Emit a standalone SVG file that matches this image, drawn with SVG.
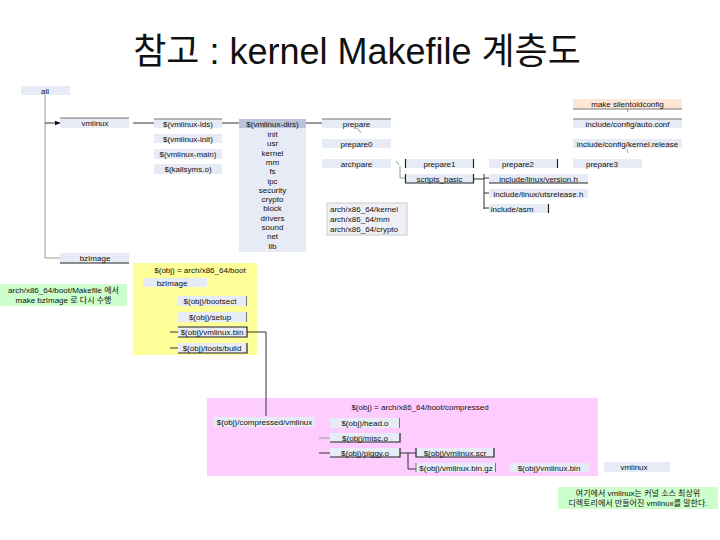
<svg xmlns="http://www.w3.org/2000/svg" width="720" height="540" viewBox="0 0 720 540">
<defs>
<style>
text{font-family:"Liberation Sans",Arial,"Noto Sans CJK KR",sans-serif;fill:#111;}
.t{font-size:8px;text-anchor:middle;}
.n{fill:#e6ebf5;}
.h{fill:#b8c5db;}
.pe{fill:#fde6d6;}
.d{stroke:#222;stroke-width:1.2;fill:none;}
.g{stroke:#777;stroke-width:1;fill:none;}
.c{stroke:#333;stroke-width:1;fill:none;}
.cg{stroke:#999;stroke-width:1;fill:none;}
.note{fill:#ccffcc;}
.ko{font-size:8px;text-anchor:middle;}
</style>
<marker id="ar" viewBox="0 0 10 10" refX="9" refY="5" markerWidth="6" markerHeight="6" orient="auto"><path d="M0,1 L10,5 L0,9 z" fill="#111"/></marker>
</defs>
<rect width="720" height="540" fill="#fff"/>
<text x="357" y="64" style="font-size:36px;text-anchor:middle">참고 : kernel Makefile 계층도</text>

<!-- regions -->
<rect id="yellow-region" x="133" y="263" width="124" height="92" fill="#ffff99"/>
<rect id="pink-region" x="207" y="398" width="391" height="78" fill="#ffccff"/>
<text x="200" y="273" class="t">$(obj) = arch/x86_64/boot</text>
<text x="420" y="410" class="t">$(obj) = arch/x86_64/boot/compressed</text>

<g id="connectors">
<path class="cg" d="M45,95 V258 H60"/>
<path class="c" d="M45,123 H60" marker-end="url(#ar)"/>
<path class="c" d="M133,123 H154"/>
<path class="c" d="M222,123 H239"/>
<path class="c" d="M306,123 H322"/>
<path class="cg" d="M396,161 L399,165"/>
<path class="cg" d="M400,166 V178 H405"/>
<path class="c" d="M474,179 H484 M484,174 V209 M484,178 H489 M484,193 H489 M484,208 H489"/>
<path class="cg" d="M357,128 L361,133"/>
<path class="cg" d="M627,108 L628,112 M627,149 L628,153"/>
<path class="c" d="M247,332 H266 V416"/>
<path class="c" d="M170,332 H178 M170,348 H178"/>
<path class="cg" d="M319,438 H330"/>
<path class="c" d="M319,453 H330"/>
<path class="c" d="M400,453 H416 M408,453 V469 H416"/>
</g>

<g id="all"><rect class="n" x="21" y="86" width="49" height="9"/><text x="45" y="93.5" class="t">all</text></g>

<g id="vmlinux"><rect class="n" x="60" y="118" width="69" height="10"/><path class="g" d="M60,118 H129"/><text x="95" y="126" class="t">vmlinux</text></g>
<g id="vmlinux-lds"><rect class="n" x="154" y="119" width="68" height="9"/><path class="g" d="M154,119 H222"/><text x="188" y="126.5" class="t">$(vmlinux-lds)</text></g>
<g id="vmlinux-init"><rect class="n" x="154" y="134" width="68" height="9"/><text x="188" y="141.5" class="t">$(vmlinux-init)</text></g>
<g id="vmlinux-main"><rect class="n" x="154" y="149" width="68" height="10"/><text x="188" y="157" class="t">$(vmlinux-main)</text></g>
<g id="kallsyms"><rect class="n" x="154" y="164" width="68" height="10"/><text x="188" y="172" class="t">$(kallsyms.o)</text></g>

<g id="vmlinux-dirs">
<rect class="n" x="239" y="119" width="67" height="133"/>
<rect class="h" x="239" y="119" width="67" height="9"/>
<text x="272.5" y="126.5" class="t">$(vmlinux-dirs)</text>
<text x="272.5" y="137" class="t">init</text>
<text x="272.5" y="146.3" class="t">usr</text>
<text x="272.5" y="155.6" class="t">kernel</text>
<text x="272.5" y="164.9" class="t">mm</text>
<text x="272.5" y="174.2" class="t">fs</text>
<text x="272.5" y="183.5" class="t">ipc</text>
<text x="272.5" y="192.8" class="t">security</text>
<text x="272.5" y="202.1" class="t">crypto</text>
<text x="272.5" y="211.4" class="t">block</text>
<text x="272.5" y="220.7" class="t">drivers</text>
<text x="272.5" y="230" class="t">sound</text>
<text x="272.5" y="239.3" class="t">net</text>
<text x="272.5" y="248.6" class="t">lib</text>
</g>

<g id="prepare"><rect class="n" x="322" y="119" width="69" height="9"/><path class="g" d="M322,119 H391"/><text x="356.5" y="126.5" class="t">prepare</text></g>
<g id="prepare0"><rect class="n" x="322" y="139" width="69" height="9"/><text x="356.5" y="146.5" class="t">prepare0</text></g>
<g id="archpare"><rect class="n" x="322" y="159" width="69" height="9"/><text x="356.5" y="166.5" class="t">archpare</text></g>

<g id="prepare1"><rect class="n" x="405" y="159" width="69" height="9"/><path class="d" d="M405.5,159 V168 M473.5,159 V168"/><text x="439.5" y="166.5" class="t">prepare1</text></g>
<g id="scripts_basic"><rect class="n" x="405" y="174" width="69" height="9"/><path class="d" d="M405.5,174 V183 H473.5 V174"/><text x="439.5" y="181.5" class="t">scripts_basic</text></g>

<g id="prepare2"><rect class="n" x="489" y="159" width="69" height="9"/><path class="d" d="M557.5,159 V168"/><text x="518" y="166.5" class="t">prepare2</text></g>
<g id="prepare3"><rect class="n" x="573" y="159" width="69" height="9"/><text x="602" y="166.5" class="t">prepare3</text></g>

<g id="silentoldconfig"><rect class="pe" x="573" y="99" width="109" height="10"/><path class="g" d="M573,109 H682"/><text x="627.5" y="106.5" class="t">make silentoldconfig</text></g>
<g id="auto-conf"><rect class="n" x="573" y="119" width="109" height="9"/><path class="g" d="M573,119 H682"/><text x="627.5" y="126.5" class="t">include/config/auto.conf</text></g>
<g id="kernel-release"><rect class="n" x="573" y="139" width="109" height="9"/><text x="627.5" y="146.5" class="t">include/config/kernel.release</text></g>

<g id="version-h"><rect class="n" x="489" y="174" width="99" height="9"/><path class="d" d="M489,183 H588"/><text x="538.5" y="181.5" class="t">include/linux/version.h</text></g>
<g id="utsrelease-h"><rect class="n" x="489" y="189" width="99" height="9"/><text x="538.5" y="196.5" class="t">include/linux/utsrelease.h</text></g>
<g id="include-asm"><rect class="n" x="489" y="204" width="60" height="9"/><path class="d" d="M548.5,204 V213"/><text x="512" y="211.5" class="t">include/asm</text></g>

<g id="arch-dirs"><rect x="327" y="203" width="80" height="32" fill="#eef0f6" stroke="#ccc" stroke-width="1"/>
<text x="330" y="212" style="font-size:8px">arch/x86_64/kernel</text>
<text x="330" y="222" style="font-size:8px">arch/x86_64/mm</text>
<text x="330" y="232" style="font-size:8px">arch/x86_64/crypto</text></g>

<g id="bzImage"><rect class="n" x="60" y="253" width="69" height="10"/><path class="d" d="M60,263 H129"/><text x="95" y="261" class="t">bzImage</text></g>

<g id="note-left"><rect class="note" x="0" y="284" width="127" height="22"/>
<text x="63.5" y="293" class="ko">arch/x86_64/boot/Makefile 에서</text>
<text x="63.5" y="303" class="ko">make bzImage 로 다시 수행</text></g>

<g id="boot-bzImage"><rect class="n" x="143" y="278" width="64" height="9"/><text x="172" y="285.5" class="t">bzImage</text></g>
<g id="bootsect"><rect class="n" x="178" y="296" width="69" height="10"/><path class="g" d="M246.5,296 V306"/><text x="210" y="304" class="t">$(obj)/bootsect</text></g>
<g id="setup"><rect class="n" x="178" y="312" width="69" height="10"/><path class="g" d="M246.5,312 V322"/><text x="210" y="320" class="t">$(obj)/setup</text></g>
<g id="vmlinux-bin"><rect class="n" x="178" y="327" width="69" height="10"/><path class="d" d="M178,327 H247 V337 H178"/><text x="212" y="335" class="t">$(obj)/vmlinux.bin</text></g>
<g id="tools-build"><rect class="n" x="178" y="343" width="69" height="10"/><path class="d" d="M178,353 H247 V343"/><text x="212" y="351" class="t">$(obj)/tools/build</text></g>

<g id="compressed-vmlinux"><rect class="n" x="214" y="417" width="101" height="10"/><text x="264.5" y="425" class="t">$(obj)/compressed/vmlinux</text></g>
<g id="head-o"><rect class="n" x="330" y="418" width="70" height="10"/><path class="g" d="M399.5,418 V428"/><text x="365" y="426" class="t">$(obj)/head.o</text></g>
<g id="misc-o"><rect class="n" x="330" y="433" width="70" height="9"/><path class="d" d="M330,442 H400 V433"/><text x="365" y="440.5" class="t">$(obj)/misc.o</text></g>
<g id="piggy-o"><rect class="n" x="330" y="448" width="70" height="9"/><path class="d" d="M330,457 H400 V448"/><text x="365" y="455.5" class="t">$(obj)/piggy.o</text></g>
<g id="vmlinux-scr"><rect class="n" x="416" y="448" width="78" height="9"/><path class="d" d="M416,448 V457 H494 V448"/><text x="455" y="455.5" class="t">$(obj)/vmlinux.scr</text></g>
<g id="vmlinux-bin-gz"><rect class="n" x="416" y="463" width="80" height="9"/><path class="g" d="M416,463 V472 M495.5,463 V472"/><text x="456" y="470.5" class="t">$(obj)/vmlinux.bin.gz</text></g>
<g id="c-vmlinux-bin"><rect class="n" x="509" y="463" width="80" height="9"/><text x="549" y="470.5" class="t">$(obj)/vmlinux.bin</text></g>
<g id="vmlinux-final"><rect class="n" x="604" y="462" width="66" height="10"/><text x="634" y="470" class="t">vmlinux</text></g>

<g id="note-right"><rect class="note" x="558" y="487" width="160" height="22"/>
<text x="638" y="496" class="ko">여기에서 vmlinux는 커널 소스 최상위</text>
<text x="638" y="506" class="ko">디렉토리에서 만들어진 vmlinux를 말한다.</text></g>
</svg>
